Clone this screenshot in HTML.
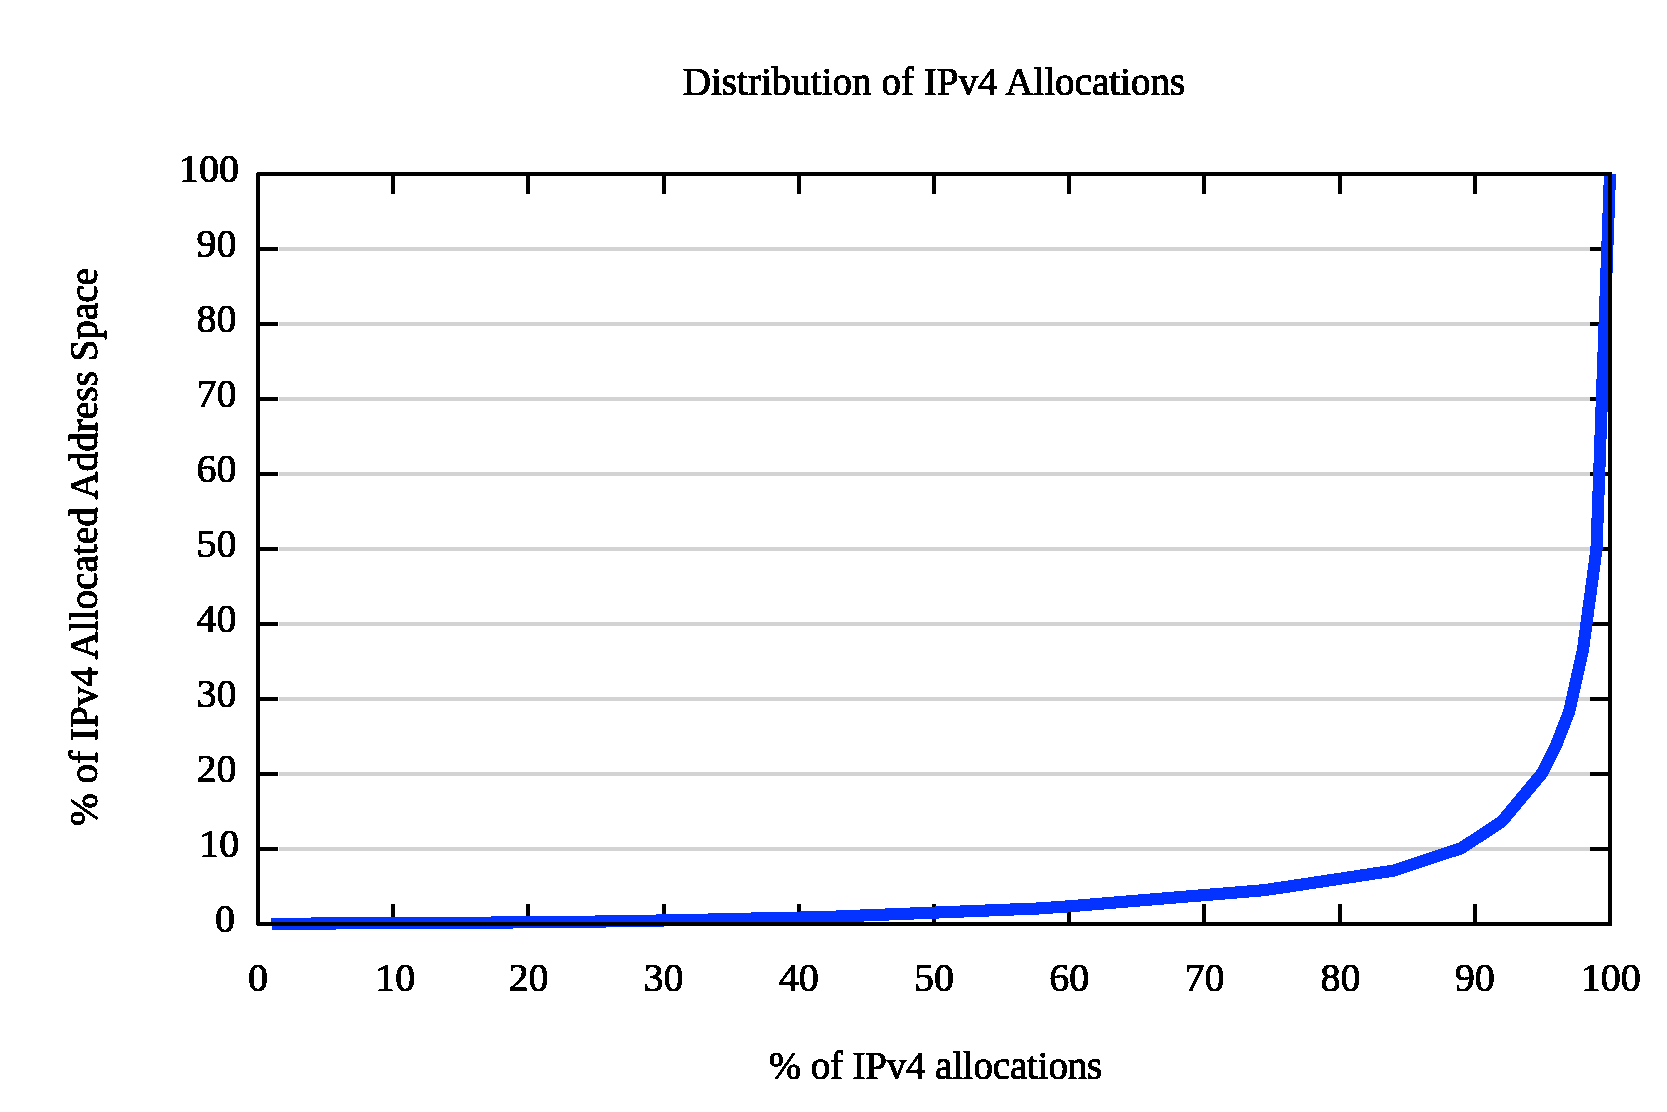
<!DOCTYPE html>
<html><head><meta charset="utf-8"><title>Distribution of IPv4 Allocations</title>
<style>html,body{margin:0;padding:0;background:#fff;}body{width:1667px;height:1112px;overflow:hidden;}svg{display:block;}text{font-family:"Liberation Serif",serif;font-size:40px;fill:#000;stroke:#000;stroke-width:0.70px;stroke-linejoin:round;}text.t{font-size:39px;}</style>
</head><body>
<svg width="1667" height="1112" viewBox="0 0 1667 1112">
<rect width="1667" height="1112" fill="#ffffff"/>
<defs><filter id="bw" x="0" y="0" width="1667" height="1112" filterUnits="userSpaceOnUse" color-interpolation-filters="sRGB"><feComponentTransfer><feFuncA type="discrete" tableValues="0 0 1 1 1 1"/></feComponentTransfer></filter></defs>
<g stroke="#d3d3d3" stroke-width="4" shape-rendering="crispEdges">
<line x1="279.0" y1="849.0" x2="1590.0" y2="849.0"/>
<line x1="279.0" y1="774.0" x2="1590.0" y2="774.0"/>
<line x1="279.0" y1="699.0" x2="1590.0" y2="699.0"/>
<line x1="279.0" y1="624.0" x2="1590.0" y2="624.0"/>
<line x1="279.0" y1="549.0" x2="1590.0" y2="549.0"/>
<line x1="279.0" y1="474.0" x2="1590.0" y2="474.0"/>
<line x1="279.0" y1="399.0" x2="1590.0" y2="399.0"/>
<line x1="279.0" y1="324.0" x2="1590.0" y2="324.0"/>
<line x1="279.0" y1="249.0" x2="1590.0" y2="249.0"/>
</g>
<g stroke="#000" stroke-width="4" shape-rendering="crispEdges">
<line x1="258.0" y1="849.0" x2="278.0" y2="849.0"/>
<line x1="1590.0" y1="849.0" x2="1610.0" y2="849.0"/>
<line x1="393.2" y1="924.0" x2="393.2" y2="904.0"/>
<line x1="393.2" y1="174.0" x2="393.2" y2="194.0"/>
<line x1="258.0" y1="774.0" x2="278.0" y2="774.0"/>
<line x1="1590.0" y1="774.0" x2="1610.0" y2="774.0"/>
<line x1="528.4" y1="924.0" x2="528.4" y2="904.0"/>
<line x1="528.4" y1="174.0" x2="528.4" y2="194.0"/>
<line x1="258.0" y1="699.0" x2="278.0" y2="699.0"/>
<line x1="1590.0" y1="699.0" x2="1610.0" y2="699.0"/>
<line x1="663.6" y1="924.0" x2="663.6" y2="904.0"/>
<line x1="663.6" y1="174.0" x2="663.6" y2="194.0"/>
<line x1="258.0" y1="624.0" x2="278.0" y2="624.0"/>
<line x1="1590.0" y1="624.0" x2="1610.0" y2="624.0"/>
<line x1="798.8" y1="924.0" x2="798.8" y2="904.0"/>
<line x1="798.8" y1="174.0" x2="798.8" y2="194.0"/>
<line x1="258.0" y1="549.0" x2="278.0" y2="549.0"/>
<line x1="1590.0" y1="549.0" x2="1610.0" y2="549.0"/>
<line x1="934.0" y1="924.0" x2="934.0" y2="904.0"/>
<line x1="934.0" y1="174.0" x2="934.0" y2="194.0"/>
<line x1="258.0" y1="474.0" x2="278.0" y2="474.0"/>
<line x1="1590.0" y1="474.0" x2="1610.0" y2="474.0"/>
<line x1="1069.2" y1="924.0" x2="1069.2" y2="904.0"/>
<line x1="1069.2" y1="174.0" x2="1069.2" y2="194.0"/>
<line x1="258.0" y1="399.0" x2="278.0" y2="399.0"/>
<line x1="1590.0" y1="399.0" x2="1610.0" y2="399.0"/>
<line x1="1204.4" y1="924.0" x2="1204.4" y2="904.0"/>
<line x1="1204.4" y1="174.0" x2="1204.4" y2="194.0"/>
<line x1="258.0" y1="324.0" x2="278.0" y2="324.0"/>
<line x1="1590.0" y1="324.0" x2="1610.0" y2="324.0"/>
<line x1="1339.6" y1="924.0" x2="1339.6" y2="904.0"/>
<line x1="1339.6" y1="174.0" x2="1339.6" y2="194.0"/>
<line x1="258.0" y1="249.0" x2="278.0" y2="249.0"/>
<line x1="1590.0" y1="249.0" x2="1610.0" y2="249.0"/>
<line x1="1474.8" y1="924.0" x2="1474.8" y2="904.0"/>
<line x1="1474.8" y1="174.0" x2="1474.8" y2="194.0"/>
</g>
<polyline fill="none" stroke="#0433ff" stroke-width="12.15" stroke-linejoin="miter" stroke-linecap="butt" shape-rendering="crispEdges" points="271.5,923.8 505.4,922.5 602.8,921.5 660.9,920.5 712.3,919.5 754.2,918.5 804.2,917.5 839.4,916.5 862.3,915.5 936.7,912.5 1038.1,908.5 1069.2,906.3 1204.4,895.1 1263.9,890.2 1300.0,884.8 1393.7,870.6 1461.3,848.2 1501.8,821.6 1542.4,772.9 1555.9,745.9 1569.4,711.0 1583.0,649.5 1596.5,549.0 1610.0,174.0"/>
<rect x="258.0" y="174.0" width="1352.0" height="750.0" fill="none" stroke="#000" stroke-width="4" shape-rendering="crispEdges"/>
<rect x="256" y="172" width="1" height="1" fill="#fff" shape-rendering="crispEdges"/>
<rect x="256" y="925" width="1" height="1" fill="#fff" shape-rendering="crispEdges"/>
<g filter="url(#bw)">
<text x="235.10" y="932.0" text-anchor="end">0</text>
<text x="239.20" y="857.0" text-anchor="end">10</text>
<text x="236.50" y="782.0" text-anchor="end">20</text>
<text x="236.50" y="707.0" text-anchor="end">30</text>
<text x="236.50" y="632.0" text-anchor="end">40</text>
<text x="236.50" y="557.0" text-anchor="end">50</text>
<text x="236.50" y="482.0" text-anchor="end">60</text>
<text x="236.50" y="407.0" text-anchor="end">70</text>
<text x="236.50" y="332.0" text-anchor="end">80</text>
<text x="236.50" y="257.0" text-anchor="end">90</text>
<text x="239.10" y="182.0" text-anchor="end">100</text>
<text x="258.00" y="991.3" text-anchor="middle">0</text>
<text x="395.20" y="991.3" text-anchor="middle">10</text>
<text x="528.40" y="991.3" text-anchor="middle">20</text>
<text x="663.60" y="991.3" text-anchor="middle">30</text>
<text x="798.80" y="991.3" text-anchor="middle">40</text>
<text x="934.00" y="991.3" text-anchor="middle">50</text>
<text x="1069.20" y="991.3" text-anchor="middle">60</text>
<text x="1204.40" y="991.3" text-anchor="middle">70</text>
<text x="1340.60" y="991.3" text-anchor="middle">80</text>
<text x="1474.80" y="991.3" text-anchor="middle">90</text>
<text x="1610.80" y="991.3" text-anchor="middle">100</text>
<text x="682.80" y="94.6" class="t" textLength="502.4" lengthAdjust="spacing">Distribution of IPv4 Allocations</text>
<text x="768.80" y="1078.6" class="t" textLength="333.5" lengthAdjust="spacing">% of IPv4 allocations</text>
<text transform="translate(97.2,825.8) rotate(-90)" x="0.00" y="0" class="t" textLength="557.9" lengthAdjust="spacing">% of IPv4 Allocated Address Space</text>
</g>
</svg>
</body></html>
